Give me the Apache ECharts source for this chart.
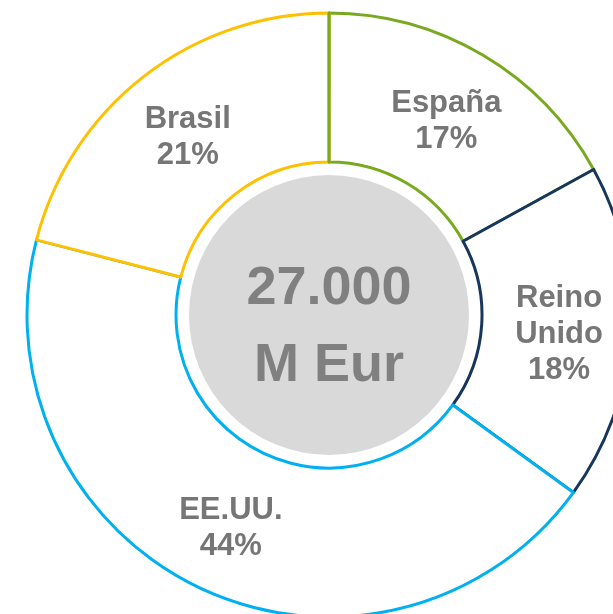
<!DOCTYPE html>
<html>
<head>
<meta charset="utf-8">
<script src="https://cdn.jsdelivr.net/npm/echarts@6/dist/echarts.min.js"></script>
<style>
  html, body { margin: 0; padding: 0; background: #ffffff; }
  #chart { width: 613px; height: 614px; }
</style>
</head>
<body>
<div id="chart"></div>
<script>
// Sales by country (share of total, %)
const countries = ['España', 'Reino Unido', 'EE.UU.', 'Brasil'];
const labelLines = ['España', 'Reino\nUnido', 'EE.UU.', 'Brasil'];
const shares = [17, 18, 44, 21];
const colors = ['#78a91e', '#17365d', '#00b0f0', '#ffc000'];
const totalText = '27.000\nM Eur';

const CENTER = [329, 315];
const RING = [153, 302];
const START = 90;
const FONT = '"Liberation Sans", Arial, sans-serif';

const ringData = countries.map((name, i) => ({
  name: name,
  value: shares[i],
  itemStyle: { color: '#ffffff', borderColor: colors[i], borderWidth: 3 },
  label: { formatter: labelLines[i] + '\n' + shares[i] + '%' }
}));

const chart = echarts.init(document.getElementById('chart'), null, { renderer: 'canvas' });
chart.setOption({
  animation: false,
  backgroundColor: '#ffffff',
  series: [
    {
      type: 'pie',
      center: CENTER,
      radius: [0, 140],
      silent: true,
      data: [{ value: 1, name: 'total', itemStyle: { color: '#d9d9d9' } }],
      label: {
        show: true,
        position: 'center',
        formatter: totalText,
        color: '#808080',
        fontFamily: FONT,
        fontWeight: 'bold',
        fontSize: 54,
        lineHeight: 77,
        offset: [0, 13]
      },
      labelLine: { show: false }
    },
    {
      type: 'pie',
      center: CENTER,
      radius: RING,
      startAngle: START,
      clockwise: true,
      silent: true,
      data: ringData,
      label: {
        show: true,
        position: 'inside',
        color: '#767676',
        fontFamily: FONT,
        fontWeight: 'bold',
        fontSize: 31,
        lineHeight: 36,
        align: 'center',
        offset: [0, 5]
      },
      labelLine: { show: false }
    },
    {
      // the first slice's starting edge is drawn again on top of the last slice's closing edge
      type: 'pie',
      center: CENTER,
      radius: RING,
      startAngle: START,
      endAngle: START - 0.01,
      clockwise: true,
      silent: true,
      data: [{
        name: countries[0],
        value: 1,
        itemStyle: { color: 'rgba(0,0,0,0)', borderColor: colors[0], borderWidth: 3 }
      }],
      label: { show: false },
      labelLine: { show: false }
    }
  ]
});
</script>
</body>
</html>
